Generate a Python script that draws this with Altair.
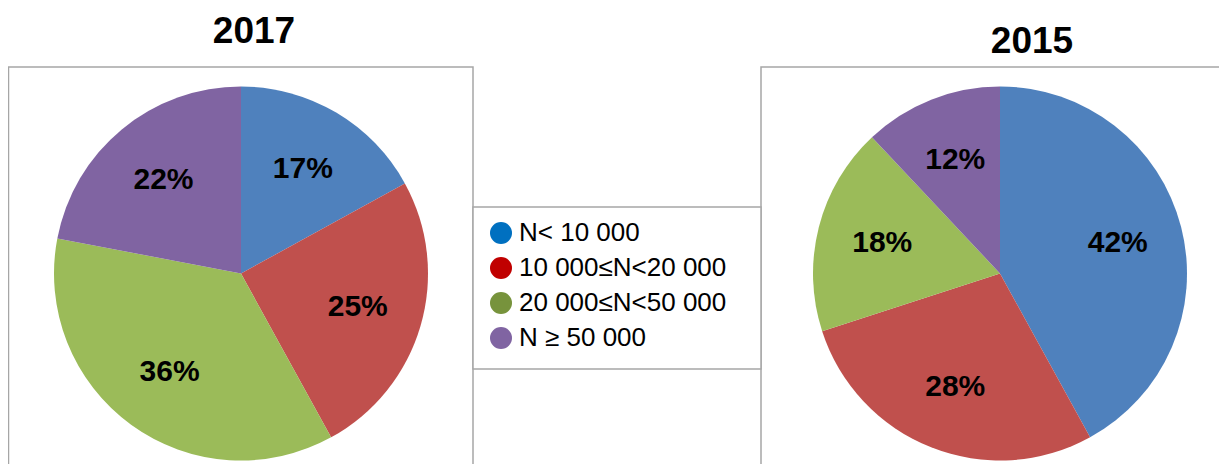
import altair as alt
import pandas as pd

categories = ["N< 10 000", "10 000≤N<20 000", "20 000≤N<50 000", "N ≥ 50 000"]
share_2017 = [17, 25, 36, 22]
share_2015 = [42, 28, 18, 12]
titles = ["2017", "2015"]
pie_colors = ["#4F81BD", "#C0504D", "#9BBB59", "#8064A2"]
legend_colors = ["#0070C0", "#C00000", "#77933C", "#8064A2"]

W, H = 1211, 456
FONT = "Liberation Sans"
BOX = "#A6A6A6"
dummy = pd.DataFrame({"d": [0]})


def frame(shares):
    return pd.DataFrame({
        "cat": categories,
        "share": shares,
        "idx": list(range(len(categories))),
        "label": [f"{v}%" for v in shares],
    })


def box(x, x2, y, y2):
    return alt.Chart(dummy).mark_rect(fill="white", stroke=BOX, strokeWidth=1.5).encode(
        x=alt.value(x), x2=alt.value(x2), y=alt.value(y), y2=alt.value(y2)
    )


def pie(shares, cx, cy, r):
    base = alt.Chart(frame(shares)).encode(
        theta=alt.Theta("share:Q", stack=True),
        order=alt.Order("idx:Q"),
        x=alt.value(cx),
        y=alt.value(cy),
    )
    arc = base.mark_arc(radius=r).encode(
        color=alt.Color("cat:N", scale=alt.Scale(domain=categories, range=pie_colors), legend=None)
    )
    txt = base.mark_text(radius=0.65 * r, font=FONT, fontSize=30, fontWeight="bold",
                         color="black").encode(text="label:N")
    return [arc, txt]


def title(t, cx, y):
    return alt.Chart(pd.DataFrame({"t": [t]})).mark_text(
        font=FONT, fontSize=37, fontWeight="bold", color="black", baseline="alphabetic"
    ).encode(text="t:N", x=alt.value(cx), y=alt.value(y))


legend_layer = alt.Chart(pd.DataFrame({"cat": categories})).mark_point(
    filled=True, opacity=0
).encode(
    x=alt.value(0), y=alt.value(0),
    color=alt.Color(
        "cat:N",
        scale=alt.Scale(domain=categories, range=legend_colors),
        legend=alt.Legend(
            orient="none", legendX=480, legendY=212, title=None,
            symbolType="circle", symbolSize=484, symbolOpacity=1, symbolStrokeWidth=0,
            labelFont=FONT, labelFontSize=26, labelColor="black", labelOffset=5,
            rowPadding=9, padding=0, labelLimit=500,
            labelExpr="indexof(datum.label, 'N<') == 0 ? '\u00a0\u00a0' + datum.label : datum.label",
        ),
    ),
)

layers = [
    box(0.5, 465, 59, 470),
    box(753, 1230, 59, 470),
    box(465, 753, 199, 361),
    *pie(share_2017, 233, 265.5, 187),
    *pie(share_2015, 992, 265.5, 187),
    title(titles[0], 246, 35),
    title(titles[1], 1024, 45),
    legend_layer,
]

chart = alt.layer(*layers).resolve_scale(
    theta="independent", color="independent"
).properties(
    width=W, height=H, padding=0, autosize="none", background="white"
).configure_view(stroke=None)

chart.save("out.html", embed_options={"renderer": "svg", "actions": False})
